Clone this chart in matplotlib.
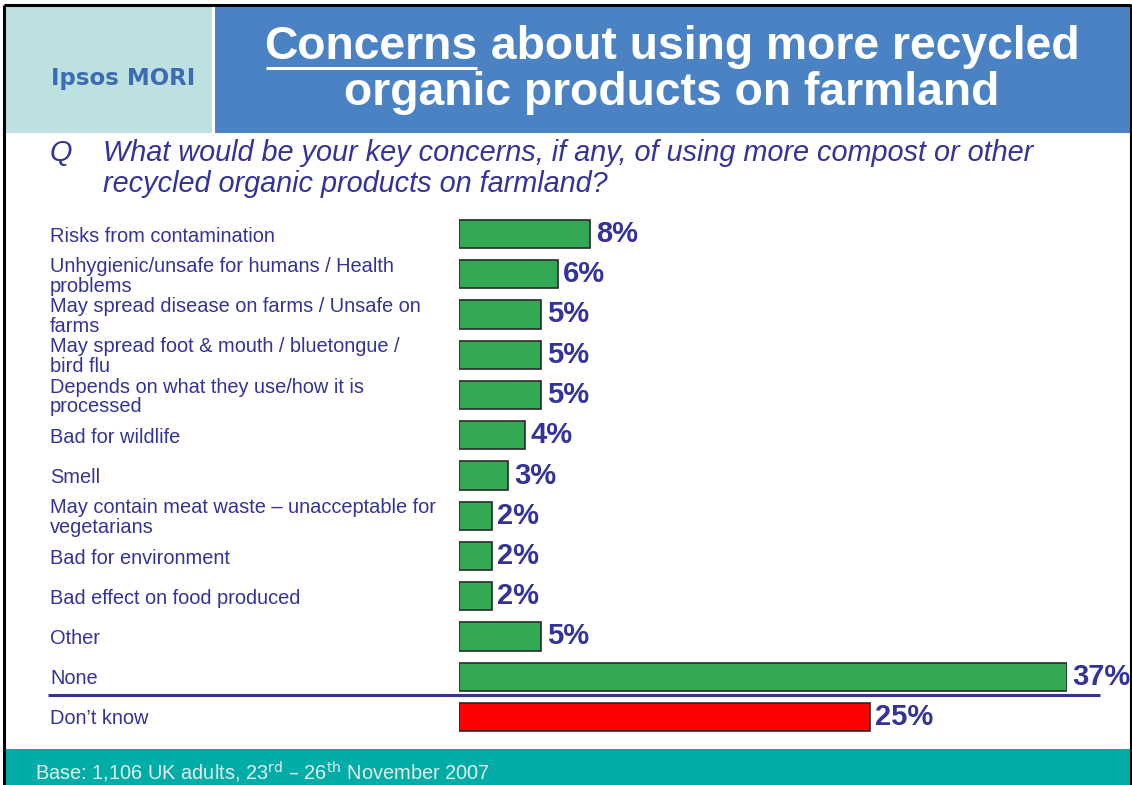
import matplotlib
matplotlib.use("Agg")
import matplotlib.pyplot as plt
from matplotlib.patches import Rectangle

categories = [
    "Risks from contamination",
    "Unhygienic/unsafe for humans / Health\nproblems",
    "May spread disease on farms / Unsafe on\nfarms",
    "May spread foot & mouth / bluetongue /\nbird flu",
    "Depends on what they use/how it is\nprocessed",
    "Bad for wildlife",
    "Smell",
    "May contain meat waste \u2013 unacceptable for\nvegetarians",
    "Bad for environment",
    "Bad effect on food produced",
    "Other",
    "None",
    "Don\u2019t know",
]
values = [8, 6, 5, 5, 5, 4, 3, 2, 2, 2, 5, 37, 25]
bar_colors = ["#34a853"] * 12 + ["#ff0000"]

W, H = 1132, 785
fig = plt.figure(figsize=(W / 100, H / 100), dpi=100)
fig.patch.set_facecolor("white")

bg = fig.add_axes([0, 0, 1, 1])
bg.set_xlim(0, W)
bg.set_ylim(H, 0)
bg.axis("off")

TXT = "#333399"
FONT = "Liberation Sans"

# header boxes
bg.add_patch(Rectangle((5, 6), 207, 127, facecolor="#bde0e0", edgecolor="none"))
bg.add_patch(Rectangle((215, 6), 917, 127, facecolor="#4a82c4", edgecolor="none"))
# footer
bg.add_patch(Rectangle((5, 749), 1127, 36, facecolor="#00aca6", edgecolor="none"))
# border
bg.plot([4, 1131], [5, 5], color="black", lw=2.2, solid_capstyle="butt")
bg.plot([4, 4], [5, 785], color="black", lw=2.2, solid_capstyle="butt")
bg.plot([1131, 1131], [5, 785], color="black", lw=1.5, solid_capstyle="butt")

# logo
bg.text(123, 79, "Ipsos MORI", color="#3b6cb4", fontsize=16.5, fontweight="bold",
        family="DejaVu Sans", ha="center", va="center")

# title
title_fs = 33.3
r = fig.canvas.get_renderer()
t1a = bg.text(0, 47, "Concerns", color="white", fontsize=title_fs, fontweight="bold",
              family=FONT, ha="left", va="center")
t1b = bg.text(0, 47, " about using more recycled", color="white", fontsize=title_fs,
              fontweight="bold", family=FONT, ha="left", va="center")
wa = t1a.get_window_extent(r).width
wb = t1b.get_window_extent(r).width
x0 = 672 - (wa + wb) / 2
t1a.set_x(x0)
t1b.set_x(x0 + wa)
bg.plot([x0 + 1, x0 + wa - 1], [68, 68], color="white", lw=2.2, solid_capstyle="butt")
bg.text(672, 93, "organic products on farmland", color="white", fontsize=title_fs,
        fontweight="bold", family=FONT, ha="center", va="center")

# question
q_fs = 20.8
bg.text(50, 153, "Q", color=TXT, fontsize=q_fs, style="italic", family=FONT, va="center")
bg.text(103, 153, "What would be your key concerns, if any, of using more compost or other",
        color=TXT, fontsize=q_fs, style="italic", family=FONT, va="center")
bg.text(103, 184, "recycled organic products on farmland?",
        color=TXT, fontsize=q_fs, style="italic", family=FONT, va="center")

# footer text
bg.text(35, 772, "Base: 1,106 UK adults, 23$^{\\mathrm{rd}}$ \u2013 26$^{\\mathrm{th}}$ November 2007",
        color="#e6ecec", fontsize=14.4, family=FONT, va="center")

# bar chart axes
bar_left, bar_right = 459, 1067
first_c, last_c = 234, 717
n = len(values)
step = (last_c - first_c) / (n - 1)
top = first_c - step / 2
bottom = last_c + step / 2
ax = fig.add_axes([bar_left / W, 1 - bottom / H, (bar_right - bar_left) / W, (bottom - top) / H])
ax.set_xlim(0, values[11])
ax.set_ylim(n - 0.5, -0.5)
ax.axis("off")
ypos = list(range(n))
ax.barh(ypos, values, height=0.7, color=bar_colors, edgecolor="#2a2a2a", linewidth=1.2)
for y, v in zip(ypos, values):
    ax.annotate(f"{v}%", (v, y), xytext=(4, 0), textcoords="offset points",
                color=TXT, fontsize=21, fontweight="bold", family=FONT,
                ha="left", va="center", annotation_clip=False)

# category labels
for i, c in enumerate(categories):
    yc = first_c + i * step + 2
    bg.text(50, yc, c, color=TXT, fontsize=14.4, family=FONT, ha="left", va="center",
            linespacing=1.05)

# separator line
bg.plot([48, 1100], [695, 695], color=TXT, lw=2.2, solid_capstyle="butt")

fig.savefig("out.png", dpi=100)
